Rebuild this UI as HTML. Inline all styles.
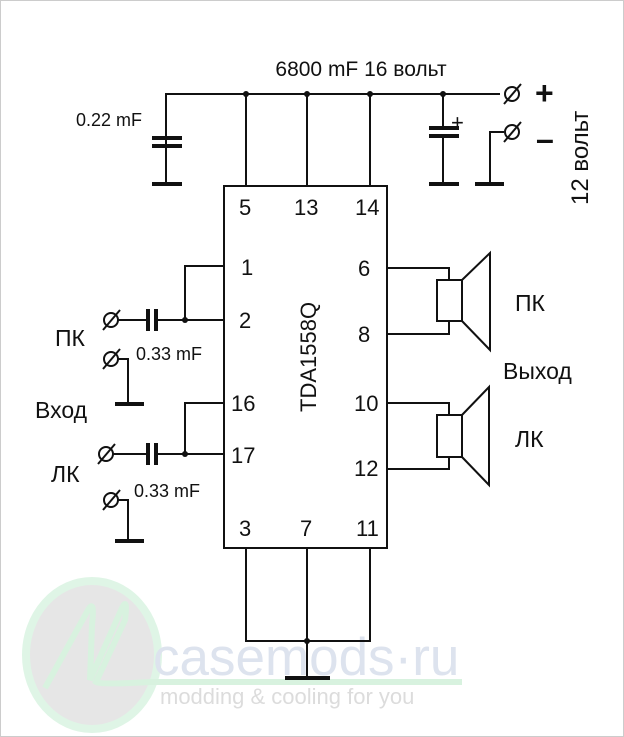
<!DOCTYPE html>
<html><head><meta charset="utf-8"><style>
body{margin:0;background:#fff}
svg{display:block}
text{font-family:"Liberation Sans",Arial,sans-serif;fill:#111}
</style></head><body>
<svg width="624" height="737" viewBox="0 0 624 737" xmlns="http://www.w3.org/2000/svg">
<rect x="0.5" y="0.5" width="623" height="736" fill="#fff" stroke="#ccc"/>
<!-- watermark -->
<ellipse cx="92" cy="655" rx="66" ry="74" fill="#e6e6e6" stroke="#dff5e6" stroke-width="8"/>
<path d="M45 688 L88 610 Q95 598 92 625 L90 680 L122 608 Q128 596 125 620 L96 682 Q100 685 150 682 L462 682" fill="none" stroke="#d8f2df" stroke-width="6"/>
<text x="153" y="675" font-size="53" style="fill:#dde3ee">casemods·ru</text>
<text x="160" y="704" font-size="22" style="fill:#dcdcdc">modding &amp; cooling for you</text>
<g stroke="#111" stroke-width="2" fill="none">
<polyline points="166,150 166,94 500,94"/>
<line x1="246" y1="94" x2="246" y2="186"/>
<line x1="307" y1="94" x2="307" y2="186"/>
<line x1="370" y1="94" x2="370" y2="186"/>
<line x1="443" y1="94" x2="443" y2="128"/>
<line x1="443" y1="138" x2="443" y2="184"/>
<line x1="166" y1="146" x2="166" y2="184"/>
<rect x="224" y="186" width="163" height="362"/>
<polyline points="504,132 490,132 490,184"/>
<polyline points="224,266 185,266 185,320"/>
<line x1="118" y1="320" x2="148" y2="320"/>
<line x1="157" y1="320" x2="224" y2="320"/>
<polyline points="118,359 128,359 128,404"/>
<polyline points="224,403 185,403 185,454"/>
<line x1="112" y1="454" x2="148" y2="454"/>
<line x1="157" y1="454" x2="224" y2="454"/>
<polyline points="118,500 128,500 128,541"/>
<polyline points="387,268 449,268 449,280"/>
<polyline points="387,334 449,334 449,321"/>
<rect x="437" y="280" width="25" height="41"/>
<polyline points="462,280 490,253 490,350 462,321"/>
<polyline points="387,403 449,403 449,415"/>
<polyline points="387,469 449,469 449,457"/>
<rect x="437" y="415" width="25" height="42"/>
<polyline points="462,415 489,387 489,485 462,457"/>
<polyline points="246,548 246,641 370,641 370,548"/>
<line x1="307" y1="548" x2="307" y2="677"/>
</g>
<g stroke="#111" stroke-width="4">
<line x1="152" y1="138" x2="182" y2="138"/><line x1="152" y1="146" x2="182" y2="146"/>
<line x1="152" y1="184" x2="182" y2="184"/>
<line x1="429" y1="128" x2="459" y2="128"/><line x1="429" y1="136" x2="459" y2="136"/>
<line x1="429" y1="184" x2="459" y2="184"/>
<line x1="475" y1="184" x2="504" y2="184"/>
<line x1="148" y1="309" x2="148" y2="331"/><line x1="156" y1="309" x2="156" y2="331"/>
<line x1="148" y1="443" x2="148" y2="465"/><line x1="156" y1="443" x2="156" y2="465"/>
<line x1="115" y1="404" x2="144" y2="404"/>
<line x1="115" y1="541" x2="144" y2="541"/>
<line x1="285" y1="678" x2="330" y2="678"/>
</g>
<g fill="#111">
<circle cx="246" cy="94" r="3"/><circle cx="307" cy="94" r="3"/><circle cx="370" cy="94" r="3"/><circle cx="443" cy="94" r="3"/>
<circle cx="185" cy="320" r="3"/><circle cx="185" cy="454" r="3"/><circle cx="307" cy="641" r="3"/>
</g>
<g stroke="#111" stroke-width="2" fill="none">
<circle cx="512" cy="94" r="7"/><line x1="504" y1="104" x2="521" y2="84"/>
<circle cx="512" cy="132" r="7"/><line x1="504" y1="142" x2="521" y2="122"/>
<circle cx="111" cy="320" r="7"/><line x1="103" y1="330" x2="120" y2="310"/>
<circle cx="111" cy="359" r="7"/><line x1="103" y1="369" x2="120" y2="349"/>
<circle cx="106" cy="454" r="7"/><line x1="98" y1="464" x2="115" y2="444"/>
<circle cx="111" cy="500" r="7"/><line x1="103" y1="510" x2="120" y2="490"/>
</g>
<text x="361" y="76" font-size="21" text-anchor="middle">6800 mF 16 вольт</text>
<text x="76" y="126" font-size="18">0.22 mF</text>
<text x="451" y="130" font-size="22">+</text>
<text x="535" y="104" font-size="32" font-weight="bold">+</text>
<text x="536" y="150" font-size="32" font-weight="bold">–</text>
<text transform="translate(588,205) rotate(-90)" font-size="24">12 вольт</text>
<g font-size="22">
<text x="239" y="215">5</text><text x="294" y="215">13</text><text x="355" y="215">14</text>
<text x="241" y="275">1</text><text x="239" y="328">2</text>
<text x="231" y="411">16</text><text x="231" y="463">17</text>
<text x="239" y="536">3</text><text x="300" y="536">7</text><text x="356" y="536">11</text>
<text x="358" y="276">6</text><text x="358" y="342">8</text>
<text x="354" y="411">10</text><text x="354" y="476">12</text>
</g>
<text transform="translate(316,412) rotate(-90)" font-size="22">TDA1558Q</text>
<text x="55" y="346" font-size="23">ПК</text>
<text x="136" y="360" font-size="18">0.33 mF</text>
<text x="35" y="418" font-size="23">Вход</text>
<text x="51" y="482" font-size="23">ЛК</text>
<text x="134" y="497" font-size="18">0.33 mF</text>
<text x="515" y="311" font-size="23">ПК</text>
<text x="503" y="379" font-size="23">Выход</text>
<text x="515" y="447" font-size="23">ЛК</text>
</svg>
</body></html>
